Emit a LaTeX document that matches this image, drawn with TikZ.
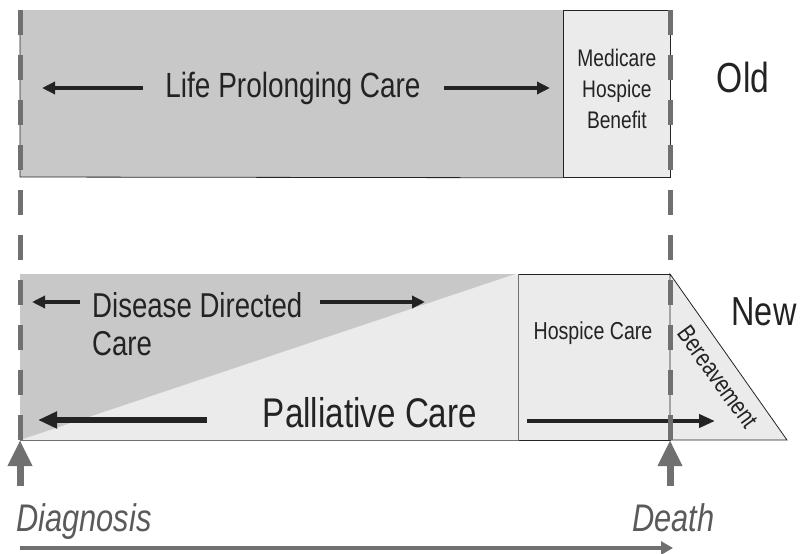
\documentclass[tikz,border=0pt]{standalone}
\usepackage{fontspec}
\setmainfont{Liberation Sans}[FakeStretch=0.8]
\usetikzlibrary{calc, arrows.meta, positioning}
\definecolor{BoxDark}{RGB}{200, 200, 201}
\definecolor{BoxLight}{RGB}{235, 235, 236}
\definecolor{LineGray}{RGB}{112, 112, 112}
\definecolor{InkBlack}{RGB}{35, 35, 35}
\definecolor{TimeGray}{RGB}{90, 90, 90}

\begin{document}
\begin{tikzpicture}[x=1pt, y=-1pt,
    txt/.style={inner sep=0pt, text=InkBlack},
    edge/.style={draw=InkBlack, line width=0.8pt},
    softedge/.style={draw=LineGray, line width=0.8pt},
    darrow/.style={-{Triangle[width=12pt,length=13pt]}, line width=3.5pt, InkBlack},
    bigarrow/.style={-{Triangle[width=16pt,length=19pt]}, line width=6pt, InkBlack},
    midarrow/.style={-{Triangle[width=13pt,length=16pt]}, line width=4.5pt, InkBlack},
    timeline/.style={LineGray, line width=5pt, dash pattern=on 25pt off 20pt},
    uparrow/.style={-{Triangle[width=23pt,length=26pt]}, line width=7pt, LineGray},
    spanarrow/.style={-{Triangle[width=13pt,length=12pt]}, line width=4.5pt, LineGray},
  ]
  \useasboundingbox (0,0) rectangle (801,554);

  % Alte Versorgung
  \coordinate (oldNW) at (20,10);
  \coordinate (oldSW) at (20,177);
  \coordinate (oldNE) at (670,10);
  \coordinate (oldSE) at (670,177);
  \fill[BoxDark] (oldNW) rectangle (563,177);
  \node[fill=BoxLight, edge, minimum width=107pt, minimum height=167pt, anchor=north west, inner sep=0pt] (medbox) at (563,10) {};
  \draw[edge] (medbox.south west) -- (oldSW) -- (oldNW);

  \node[txt, font=\fontsize{35}{40}\selectfont, anchor=base] (life) at (293,97) {Life Prolonging Care};
  \coordinate (lifeL) at (42,88);
  \coordinate (lifeR) at (550,88);
  \draw[darrow] ($(life.west |- lifeL)+(-22,0)$) -- (lifeL);
  \draw[darrow] ($(life.east |- lifeR)+(23,0)$) -- (lifeR);

  \node[txt, font=\fontsize{24}{31}\selectfont, align=center] (medicare) at (medbox.center |- 0,89) {Medicare\\Hospice\\Benefit};
  \node[txt, font=\fontsize{42}{46}\selectfont, anchor=base] (old) at (743,92) {Old};

  % Neue Versorgung
  \coordinate (newNW) at (20,274);
  \coordinate (newSW) at (20,440);
  \coordinate (newNE) at (670,274);
  \coordinate (newSE) at (670,440);
  \fill[BoxLight] (newNW) rectangle (518,440);
  \fill[BoxDark] (newSW) -- (newNW) -- (515,274) -- cycle;
  \draw[softedge] (newSW) -- (518,440);
  \node[fill=BoxLight, edge, minimum width=152pt, minimum height=166pt, anchor=north west, inner sep=0pt] (hospbox) at (518,274) {};
  \draw[softedge] (hospbox.north west) -- (hospbox.south west);
  \filldraw[fill=BoxLight, edge] (newNE) -- (787,440) -- (newSE) -- cycle;

  \node[txt, font=\fontsize{34.5}{40}\selectfont, anchor=base west] (disease) at (92,317) {Disease Directed};
  \node[txt, font=\fontsize{34.5}{40}\selectfont, anchor=base west] (disease2) at (92,355) {Care};
  \coordinate (disL) at (32,302);
  \coordinate (disR) at (425,302);
  \draw[darrow] ($(disease.west |- disL)+(-12,0)$) -- (disL);
  \draw[darrow] ($(disease.east |- disR)+(17,0)$) -- (disR);

  \node[txt, font=\fontsize{41.5}{46}\selectfont, anchor=base] (palliative) at (370,427) {Palliative Care};
  \coordinate (palL) at (38,420);
  \draw[bigarrow] ($(palliative.west |- palL)+(-56,0)$) -- (palL);

  \node[txt, font=\fontsize{24.5}{28}\selectfont] (hospice) at (593,333) {Hospice Care};
  \coordinate (hospR) at (715,421);
  \draw[midarrow] ($(hospbox.west |- hospR)+(9,0)$) -- (hospR);

  \node[txt, font=\fontsize{25}{30}\selectfont, rotate=-54] (bereave) at (718,377) {Bereavement};
  \node[txt, font=\fontsize{40.5}{44}\selectfont, anchor=base] (new) at (764,325) {New};

  % Zeitachse
  \draw[timeline] (oldNW) -- (newSW);
  \draw[timeline] (oldNE) -- (newSE);
  \node[txt, text=TimeGray, font=\fontsize{38.5}{42}\itshape, anchor=base west] (diagnosis) at (16,531) {Diagnosis};
  \node[txt, text=TimeGray, font=\fontsize{38.5}{42}\itshape, anchor=base west] (death) at (632,531) {Death};
  \draw[uparrow] (20,486) -- (newSW);
  \draw[uparrow] (670,486) -- (newSE);
  \coordinate (spanEnd) at (673,548);
  \draw[spanarrow] (20,548) -- (spanEnd);
\end{tikzpicture}
\end{document}
